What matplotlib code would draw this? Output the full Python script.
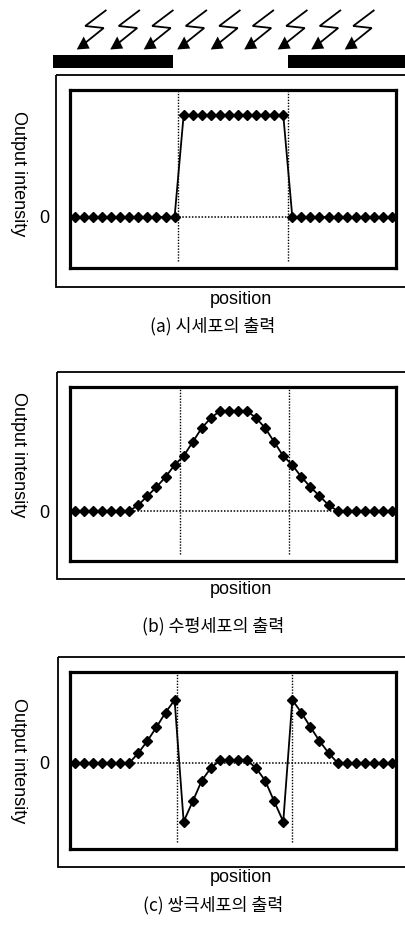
import matplotlib.pyplot as plt
from matplotlib.patches import Rectangle, Polygon

# 36 sample positions along the retina
positions = list(range(36))

# (a) photoreceptor output
receptor_out = [0, 0, 0, 0, 0, 0, 0, 0, 0, 0, 0, 0,
                100, 100, 100, 100, 100, 100, 100, 100, 100, 100, 100, 100,
                0, 0, 0, 0, 0, 0, 0, 0, 0, 0, 0, 0]
# (b) horizontal cell output
horizontal_out = [0, 0, 0, 0, 0, 0, 0,
                  6, 15, 24, 34, 46, 55, 69, 83, 93, 100, 100, 100, 100,
                  93, 83, 69, 55, 46, 34, 24, 15, 6,
                  0, 0, 0, 0, 0, 0, 0]
# (c) bipolar cell output
bipolar_out = [0, 0, 0, 0, 0, 0, 0,
               16, 35, 57, 80, 100, -93, -61, -28, -8, 4, 4, 4, 4,
               -8, -28, -61, -93, 100, 80, 57, 35, 16,
               0, 0, 0, 0, 0, 0, 0]

# edges of the lit region (in position units) for each panel
edges_a = [11.4, 23.55]
edges_b = [11.6, 23.65]
edges_c = [11.25, 23.95]

captions = ['(a) 시세포의 출력', '(b) 수평세포의 출력', '(c) 쌍극세포의 출력']

W, H = 406, 926
fig = plt.figure(figsize=(W / 100, H / 100), dpi=100)
fig.patch.set_facecolor('white')

# full-figure layer in pixel units for frames, mask bars and light arrows
bg = fig.add_axes([0, 0, 1, 1], zorder=0)
bg.set_xlim(0, W)
bg.set_ylim(H, 0)
bg.axis('off')


def px_axes(x0, y0, x1, y1):
    return fig.add_axes([x0 / W, 1 - y1 / H, (x1 - x0) / W, (y1 - y0) / H], zorder=2)


font = 'Liberation Sans'
kfont = ['Noto Sans CJK KR', 'DejaVu Sans']

panels = [
    # values, edges, inner box (px), ylim, outer frame (px), ylabel y, xlabel y, caption y
    (receptor_out, edges_a, (70, 90, 396, 268), (-50, 124.5), (56, 75, 287), 174, 300, 326),
    (horizontal_out, edges_b, (70, 387, 396, 561), (-50, 124), (57, 372, 579), 455, 590, 626),
    (bipolar_out, edges_c, (70, 672, 396, 849), (-136.5, 144.4), (58, 657, 867), 761, 877, 905),
]

for i, (vals, edges, box, ylim, frame, yl_y, xl_y, cap_y) in enumerate(panels):
    fx, fy0, fy1 = frame
    bg.add_patch(Rectangle((fx, fy0), W + 20 - fx, fy1 - fy0, fill=False,
                           edgecolor='black', linewidth=1.3))

    ax = px_axes(*box)
    ax.plot(positions, vals, color='black', linewidth=1.3, marker='D',
            markersize=5.4, zorder=3)
    ax.axhline(0, color='black', linewidth=1.1, linestyle=(0, (1, 1.1)), zorder=1)
    for e in edges:
        ax.axvline(e, ymin=0.04, ymax=1, color='black', linewidth=1.0,
                   linestyle=(0, (1, 1.1)), zorder=1)
    ax.set_xlim(-0.55, 35.45)
    ax.set_ylim(*ylim)
    ax.set_xticks([])
    ax.set_yticks([0])
    ax.set_yticklabels(['0'], fontsize=13, family=font)
    ax.tick_params(axis='y', length=0, pad=15)
    for s in ax.spines.values():
        s.set_linewidth(2.3)

    fig.text(18 / W, 1 - yl_y / H, 'Output intensity', rotation=270, ha='center',
             va='center', fontsize=13, family=font)
    fig.text(241 / W, 1 - xl_y / H, 'position', ha='center', va='center',
             fontsize=13, family=font)
    fig.text(213 / W, 1 - cap_y / H, captions[i], ha='center', va='center',
             fontsize=12.5, family=kfont)

# opaque mask bars above panel (a)
bg.add_patch(Rectangle((53, 55), 120, 13, color='black', linewidth=0))
bg.add_patch(Rectangle((288, 55), 130, 12.5, color='black', linewidth=0))

# light arrows (zig-zag bolts with filled heads)
bolt_tips = [76.7, 110.2, 143.7, 177.2, 210.7, 244.2, 277.7, 311.2, 344.7]
for tx in bolt_tips:
    ty = 49.5
    bg.plot([tx + 29, tx + 8.5, tx + 27, tx + 9],
            [ty - 39, ty - 23.5, ty - 21.5, ty - 7],
            color='black', linewidth=1.3, solid_joinstyle='miter')
    bg.add_patch(Polygon([(tx, ty), (tx + 7, ty - 13), (tx + 13, ty - 1)],
                         closed=True, color='black', linewidth=0))

fig.savefig('out.png', dpi=100)
